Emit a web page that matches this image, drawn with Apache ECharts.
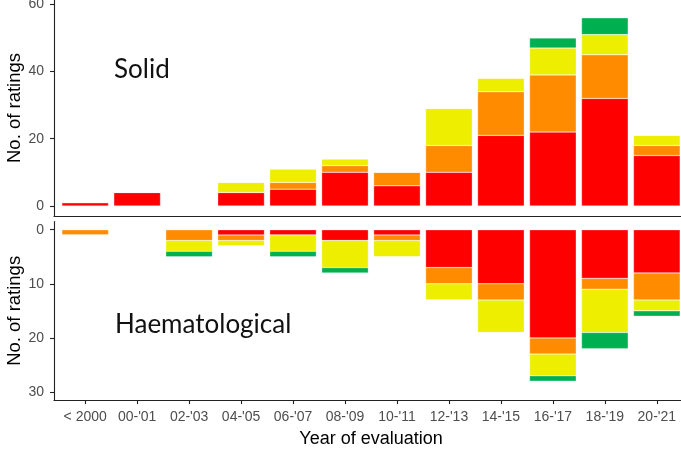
<!DOCTYPE html>
<html>
<head>
<meta charset="utf-8">
<script src="https://cdn.jsdelivr.net/npm/echarts@6/dist/echarts.min.js"></script>
<style>
html,body{margin:0;padding:0;background:#fff;}
#c{width:681px;height:450px;}
</style>
</head>
<body>
<div id="c"></div>
<script>
var categories = ["< 2000", "00-'01", "02-'03", "04-'05", "06-'07", "08-'09", "10-'11", "12-'13", "14-'15", "16-'17", "18-'19", "20-'21"];

// Solid (top panel)
var solidRed    = [1, 4, 0, 4, 5, 10, 6, 10, 21, 22, 32, 15];
var solidOrange = [0, 0, 0, 0, 2, 2, 4, 8, 13, 17, 13, 3];
var solidYellow = [0, 0, 0, 3, 4, 2, 0, 11, 4, 8, 6, 3];
var solidGreen  = [0, 0, 0, 0, 0, 0, 0, 0, 0, 3, 5, 0];

// Haematological (bottom panel)
var haemRed    = [0, 0, 0, 1, 1, 2, 1, 7, 10, 20, 9, 8];
var haemOrange = [1, 0, 2, 1, 0, 0, 1, 3, 3, 3, 2, 5];
var haemYellow = [0, 0, 2, 1, 3, 5, 3, 3, 6, 4, 8, 2];
var haemGreen  = [0, 0, 1, 0, 1, 1, 0, 0, 0, 1, 3, 1];

var solidTicks = [0, 20, 40, 60];
var haemTicks = [0, 10, 20, 30];

var colors = { red: '#FF0000', orange: '#FF8C00', yellow: '#EEEE00', green: '#00B050' };

// value first, category index second, so the value dimension is the stacked one
function pairs(arr) { return arr.map(function (v, i) { return [v, i]; }); }

var catIdx = categories.map(function (c, i) { return i; });

var chart = echarts.init(document.getElementById('c'), null, { renderer: 'canvas' });

var axisLineStyle = { color: '#222', width: 1.1 };
var labelFont = { color: '#4D4D4D', fontSize: 14, fontFamily: 'Liberation Sans, Arial, sans-serif' };

function barSeries(name, data, color, idx, stack) {
  return {
    type: 'bar', name: name, data: pairs(data), stack: stack,
    encode: { x: 1, y: 0 },
    xAxisIndex: idx, yAxisIndex: idx,
    barWidth: 46.7,
    itemStyle: { color: color, borderColor: 'rgba(255,255,255,0.6)', borderWidth: 0.5 },
    emphasis: { disabled: true },
    animation: false
  };
}

var option = {
  animation: false,
  grid: [
    { left: 54, top: 0, width: 634, height: 216, outerBoundsMode: 'none', containLabel: false },
    { left: 54, top: 221.6, width: 634, height: 178.5, outerBoundsMode: 'none', containLabel: false }
  ],
  xAxis: [
    {
      type: 'value', gridIndex: 0, min: -0.6, max: 11.6,
      axisLine: { show: true, lineStyle: axisLineStyle, onZero: false },
      axisTick: { show: false }, axisLabel: { show: false }, splitLine: { show: false }
    },
    {
      type: 'value', gridIndex: 1, min: -0.6, max: 11.6,
      axisLine: { show: true, lineStyle: axisLineStyle, onZero: false },
      axisTick: { show: true, customValues: catIdx, length: 4, lineStyle: axisLineStyle },
      axisLabel: Object.assign({
        customValues: catIdx, margin: 10,
        formatter: function (v) { return categories[Math.round(v)]; }
      }, labelFont),
      splitLine: { show: false },
      name: 'Year of evaluation', nameLocation: 'middle', nameGap: 30, nameMoveOverlap: false,
      nameTextStyle: { color: '#000', fontSize: 18, fontFamily: 'Liberation Sans, Arial, sans-serif' }
    }
  ],
  yAxis: [
    {
      type: 'value', gridIndex: 0, min: -3, max: 61.3,
      axisLine: { show: true, lineStyle: axisLineStyle, onZero: false },
      axisTick: { show: true, customValues: solidTicks, length: 4, lineStyle: axisLineStyle },
      axisLabel: Object.assign({ customValues: solidTicks, margin: 10 }, labelFont),
      splitLine: { show: false },
      name: 'No. of ratings', nameLocation: 'middle', nameGap: 30, nameMoveOverlap: false,
      nameTextStyle: { color: '#000', fontSize: 18.5, fontFamily: 'Liberation Sans, Arial, sans-serif' }
    },
    {
      type: 'value', gridIndex: 1, min: -1.5, max: 31.5, inverse: true,
      axisLine: { show: true, lineStyle: axisLineStyle, onZero: false },
      axisTick: { show: true, customValues: haemTicks, length: 4, lineStyle: axisLineStyle },
      axisLabel: Object.assign({ customValues: haemTicks, margin: 10 }, labelFont),
      splitLine: { show: false },
      name: 'No. of ratings', nameLocation: 'middle', nameGap: 30, nameMoveOverlap: false,
      nameTextStyle: { color: '#000', fontSize: 18.5, fontFamily: 'Liberation Sans, Arial, sans-serif' }
    }
  ],
  graphic: [
    { type: 'text', left: 114, top: 57, style: { text: 'Solid', font: '26px Lato, "Open Sans", sans-serif', fill: '#111' } },
    { type: 'text', left: 115, top: 312, style: { text: 'Haematological', font: '26px Lato, "Open Sans", sans-serif', fill: '#111' } }
  ],
  series: [
    barSeries('Red', solidRed, colors.red, 0, 's'),
    barSeries('Orange', solidOrange, colors.orange, 0, 's'),
    barSeries('Yellow', solidYellow, colors.yellow, 0, 's'),
    barSeries('Green', solidGreen, colors.green, 0, 's'),
    barSeries('Red', haemRed, colors.red, 1, 'h'),
    barSeries('Orange', haemOrange, colors.orange, 1, 'h'),
    barSeries('Yellow', haemYellow, colors.yellow, 1, 'h'),
    barSeries('Green', haemGreen, colors.green, 1, 'h')
  ]
};
chart.setOption(option);
</script>
</body>
</html>
